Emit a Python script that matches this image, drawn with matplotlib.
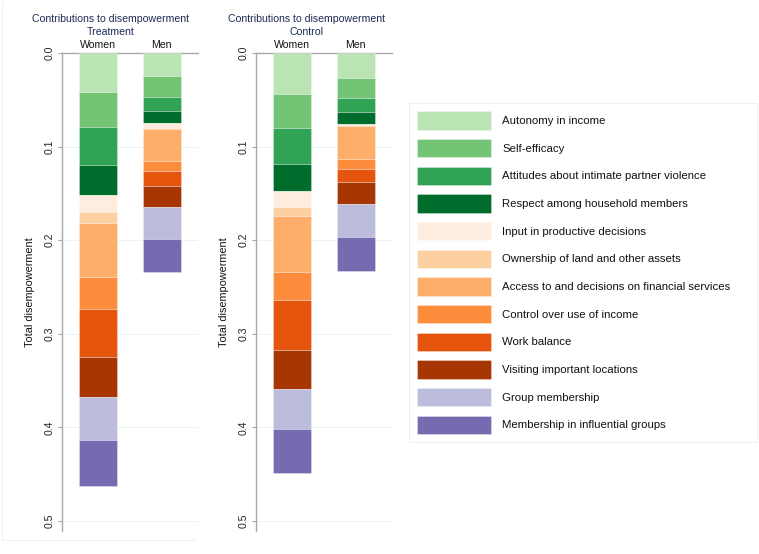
import matplotlib
matplotlib.use("Agg")
import matplotlib.pyplot as plt
from matplotlib.patches import Patch
from matplotlib.lines import Line2D
import numpy as np

plt.rcParams['font.family'] = ['Liberation Sans', 'DejaVu Sans']

categories = ["Autonomy in income", "Self-efficacy",
              "Attitudes about intimate partner violence",
              "Respect among household members",
              "Input in productive decisions",
              "Ownership of land and other assets",
              "Access to and decisions on financial services",
              "Control over use of income", "Work balance",
              "Visiting important locations", "Group membership",
              "Membership in influential groups"]
colors = ["#bae4b3", "#74c476", "#31a354", "#006d2c",
          "#feedde", "#fdd0a2", "#fdae6b", "#fd8d3c",
          "#e6550d", "#a63603", "#bcbddc", "#756bb1"]
groups = ["Women", "Men"]

treat_women = [0.0415, 0.0372, 0.0408, 0.0325, 0.018, 0.0115,
               0.0575, 0.034, 0.0515, 0.0435, 0.045, 0.0495]
treat_men = [0.025, 0.0217, 0.0156, 0.0125, 0.0057, 0.0005,
             0.0345, 0.011, 0.016, 0.0225, 0.0335, 0.036]
ctrl_women = [0.0441, 0.0363, 0.0381, 0.0285, 0.018, 0.0094,
              0.0594, 0.0302, 0.0534, 0.042, 0.0421, 0.0469]
ctrl_men = [0.027, 0.0214, 0.0146, 0.0131, 0.001, 0.0009,
            0.0355, 0.0104, 0.0138, 0.0231, 0.036, 0.0363]
yticks = [0.0, 0.1, 0.2, 0.3, 0.4, 0.5]

W, H = 759, 554
fig = plt.figure(figsize=(W / 100, H / 100), dpi=100)
fig.patch.set_facecolor("white")

# faint outer frame (left / bottom) of the first graph region
fig.add_artist(Line2D([2 / W, 2 / W], [1 - 540 / H, 1 - 2 / H],
                      transform=fig.transFigure, color="#eef2f2", lw=0.8))
fig.add_artist(Line2D([2 / W, 196 / W], [1 - 540 / H, 1 - 540 / H],
                      transform=fig.transFigure, color="#eef2f2", lw=0.8))

title_col = "#1e2a55"
spine_col = "#a8a8a8"


def panel(left_px, right_px, title_x, subtitle, women, men):
    top_px, bot_px = 53, 531
    ax = fig.add_axes([left_px / W, 1 - bot_px / H,
                       (right_px - left_px) / W, (bot_px - top_px) / H])
    x = np.array([0.0, 1.0])
    data = [women, men]
    bottoms = np.zeros(2)
    for i, c in enumerate(colors):
        vals = np.array([data[0][i], data[1][i]])
        ax.bar(x, vals, bottom=bottoms, width=0.6, color=c,
               edgecolor=(1, 1, 1, 0.35), linewidth=0.6, zorder=3)
        bottoms += vals
    ax.set_xlim(-0.573, 1.573)
    ax.set_ylim(0.5107, 0.0)
    ax.set_yticks(yticks)
    ax.set_yticklabels([f"{t:.1f}" for t in yticks], rotation=90,
                       va="center", fontsize=7.6, color="#222222")
    ax.tick_params(axis="y", length=3, width=0.8, color=spine_col, pad=2)
    ax.xaxis.tick_top()
    ax.set_xticks(x)
    ax.set_xticklabels(groups, fontsize=7.6, color="#111111")
    ax.tick_params(axis="x", length=0, pad=2.5)
    ax.grid(axis="y", color="#eaf3f5", lw=0.8, zorder=0)
    for s in ["right", "bottom"]:
        ax.spines[s].set_visible(False)
    for s in ["left", "top"]:
        ax.spines[s].set_color(spine_col)
        ax.spines[s].set_linewidth(1.0)
    ax.set_ylabel("Total disempowerment", fontsize=7.8, color="#111111",
                  labelpad=7)
    fig.text(title_x / W, 1 - 25.5 / H,
             "Contributions to disempowerment\n" + subtitle,
             ha="center", va="center", fontsize=7.6, color=title_col,
             linespacing=1.3)
    return ax


panel(62, 198, 111, "Treatment", treat_women, treat_men)
panel(256, 392, 306, "Control", ctrl_women, ctrl_men)

handles = [Patch(facecolor=c, edgecolor=(1, 1, 1, 0.35), linewidth=0.6)
           for c in colors]
leg = fig.legend(handles, categories,
                 bbox_to_anchor=(409 / W, 1 - 440 / H, 348 / W, 337 / H),
                 loc="upper left", mode="expand", fontsize=8.2,
                 handlelength=6.45, handleheight=2.1, labelspacing=0.82,
                 handletextpad=1.0, borderpad=0.72, borderaxespad=0,
                 frameon=True, fancybox=False)
leg.get_frame().set_edgecolor("#e4eeee")
leg.get_frame().set_linewidth(0.8)
for t in leg.get_texts():
    t.set_color("#111111")

fig.savefig("out.png", dpi=100)
